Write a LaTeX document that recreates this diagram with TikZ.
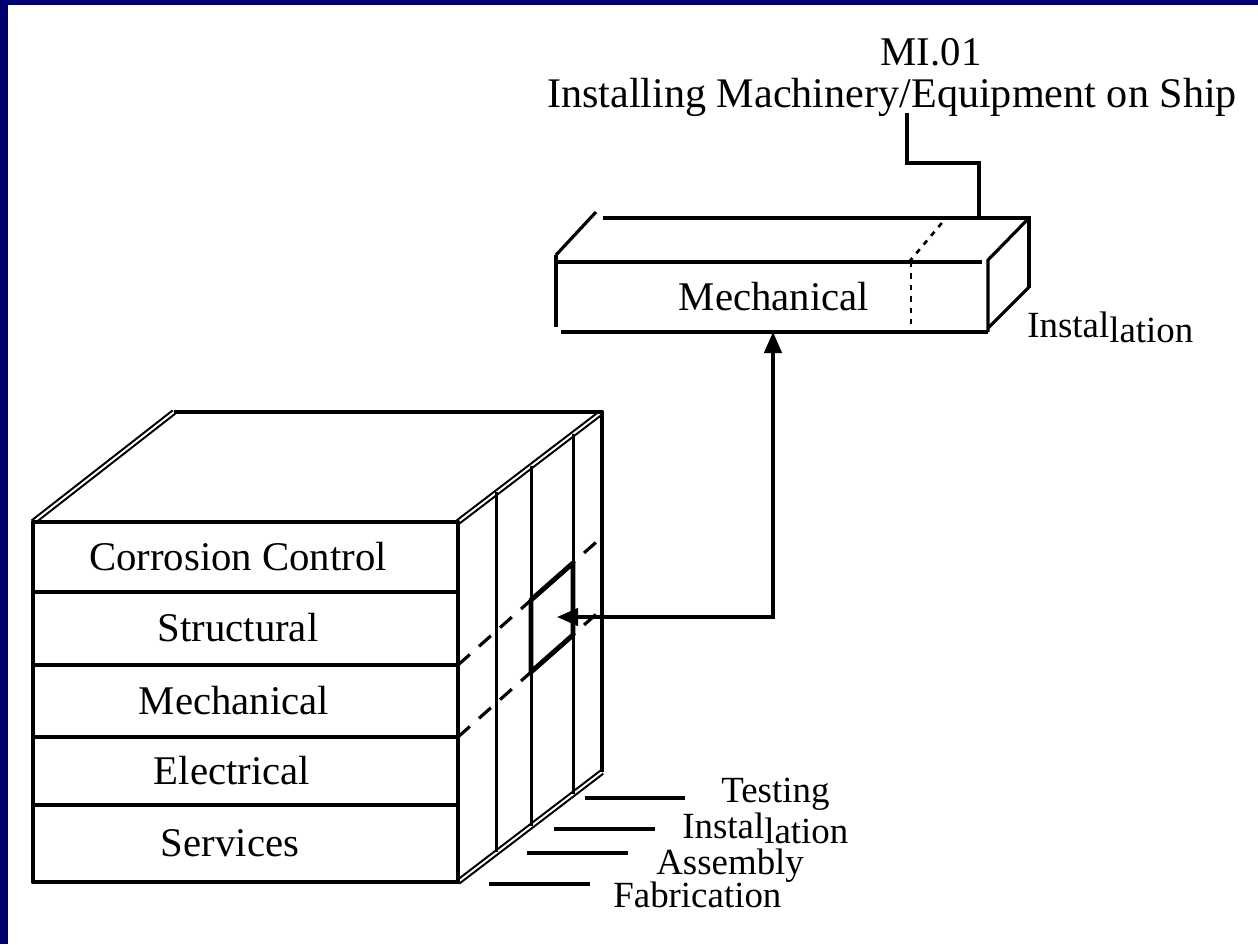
\documentclass[tikz,border=0pt]{standalone}
\usepackage{fontspec}
\setmainfont{Liberation Serif}
\usetikzlibrary{arrows.meta,positioning}
\definecolor{slidenavy}{RGB}{0,0,110}
\newcommand{\instalword}{Instal\raisebox{-0.16em}{lation}}

\begin{document}
\begin{tikzpicture}[x=0.02cm,y=-0.02cm,
  heavyedge/.style={line width=2.8pt,line join=round},
  thinedge/.style={line width=1.8pt},
  twinedge/.style={double,line width=1.2pt,double distance=1.1pt},
  hiddenedge/.style={line width=1.8pt,dash pattern=on 9pt off 7pt},
  cutedge/.style={line width=1.5pt,dash pattern=on 3pt off 3.5pt},
  facetext/.style={font=\fontsize{23.2}{28}\selectfont,inner sep=0pt},
  phasetext/.style={font=\fontsize{21}{25}\selectfont,inner sep=0pt,anchor=base west}]
\useasboundingbox (0,0) rectangle (1258,944);
\fill[white] (0,0) rectangle (1258,944);
\fill[slidenavy] (0,0) rectangle (8,944);
\fill[slidenavy] (0,0) rectangle (1258,5);

\coordinate (ftl) at (33,522);
\coordinate (ftr) at (458,522);
\coordinate (fbr) at (458,882);
\coordinate (btl) at (174,412);
\coordinate (btr) at (602,412);
\coordinate (bbr) at (602,772);
\draw[twinedge] (ftl) -- (btl);
\draw[twinedge] (ftr) -- (btr);
\draw[twinedge] (fbr) -- (bbr);
\draw[heavyedge] (btl) -- (btr) -- (bbr);
\foreach \y in {592,665,737,805}
  \draw[thinedge] (33,\y) -- (458,\y);
\draw[heavyedge] (ftl) rectangle (fbr);
\foreach \t in {0.27,0.51,0.80}
  \draw[thinedge] ({458+144*\t},{522-110*\t}) -- ({458+144*\t},{882-110*\t});
\draw[hiddenedge] (458,665) -- (602,537);
\draw[hiddenedge] (458,737) -- (602,609);
\draw[heavyedge] (531,600) -- (573,563) -- (573,635) -- (531,672) -- cycle;

\node[facetext] (corrosion) at (238,557) {Corrosion Control};
\node[facetext] (structural) at (238,628) {Structural};
\node[facetext] (mechanical) at (234,701) {Mechanical};
\node[facetext] (electrical) at (232,771) {Electrical};
\node[facetext] (services) at (230,843) {Services};

\draw[thinedge] (585,798) -- (685,798);
\draw[thinedge] (554,829) -- (655,829);
\draw[thinedge] (527,853) -- (628,853);
\draw[thinedge] (489,884) -- (590,884);
\node[phasetext] (testing) at (721,802) {Testing};
\node[phasetext] (installation) at (682,838) {\instalword};
\node[phasetext] (assembly) at (656,874) {Assembly};
\node[phasetext] (fabrication) at (613,907) {Fabrication};

\draw[thinedge] (556,255) -- (556,327);
\draw[thinedge] (556,262) -- (982,262);
\draw[thinedge] (561,332) -- (988,332);
\draw[thinedge] (556,255) -- (596,212);
\draw[thinedge] (603,218) -- (1029,218) -- (1029,288);
\draw[thinedge] (988,332) -- (988,260) -- (1029,218);
\draw[thinedge] (988,328) -- (1029,287);
\draw[cutedge] (911,262) -- (911,332);
\draw[cutedge] (909,262) -- (946,218);
\node[facetext] (boxmech) at (774,297) {Mechanical};
\node[phasetext] (boxinst) at (1027,337) {\instalword};

\node[facetext,anchor=base] (code) at (931,65) {MI.01};
\node[facetext,anchor=base,font=\fontsize{24}{29}\selectfont] (title) at (892,107) {Installing Machinery/Equipment on Ship};
\coordinate (titlefoot) at (907,113);
\coordinate (boxtop) at (979,218);
\draw[thinedge] (titlefoot) -- ++(0,50) -| (boxtop);

\coordinate (cellpoint) at (557,617);
\coordinate (boxpoint) at (773,332);
\draw[thinedge,{Triangle[length=12pt,width=10pt]}-{Triangle[length=12pt,width=10pt]}] (cellpoint) -| (boxpoint);
\end{tikzpicture}
\end{document}
